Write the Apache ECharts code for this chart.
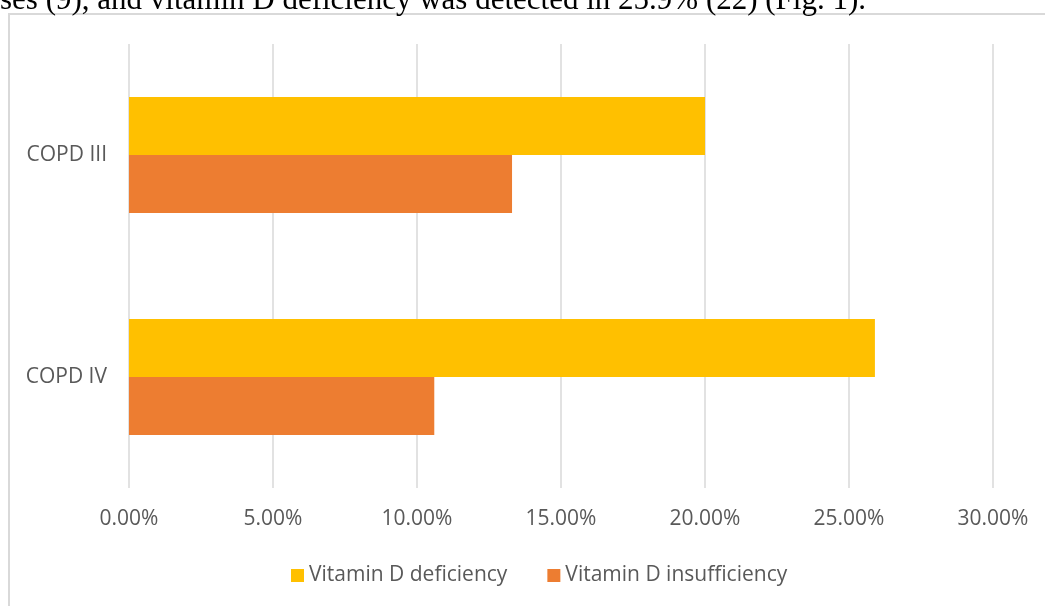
<!DOCTYPE html>
<html>
<head>
<meta charset="utf-8">
<script src="https://cdn.jsdelivr.net/npm/echarts@6/dist/echarts.min.js"></script>
<style>
html,body{margin:0;padding:0;background:#fff;}
#chart{width:1045px;height:606px;}
</style>
</head>
<body>
<div id="chart"></div>
<script>
const categories = ['COPD III', 'COPD IV'];
const deficiency = [20.0, 25.9];
const insufficiency = [13.3, 10.6];
const seriesNames = ['Vitamin D deficiency', 'Vitamin D insufficiency'];
const captionText = 'ses (9), and vitamin D deficiency was detected in 25.9% (22) (Fig. 1).';

const chart = echarts.init(document.getElementById('chart'), null, {renderer: 'canvas'});
const labelColor = '#595959';
const font = 'Open Sans';
chart.setOption({
  animation: false,
  backgroundColor: '#ffffff',
  graphic: [
    {type: 'rect', silent: true, z: -1,
     shape: {x: 9, y: 14, width: 1100, height: 700},
     style: {fill: 'none', stroke: '#d9d9d9', lineWidth: 2}},
    {type: 'text', left: 0, top: -15, silent: true,
     style: {text: captionText, font: '31px "Liberation Serif", "Times New Roman", serif', fill: '#000000'}}
  ],
  grid: {left: 129, right: 52, top: 44, bottom: 118, containLabel: false},
  legend: {
    left: 286, top: 560,
    itemWidth: 13, itemHeight: 13, itemGap: 40,
    icon: 'rect',
    textStyle: {color: labelColor, fontSize: 21, fontFamily: font},
    data: seriesNames
  },
  xAxis: {
    type: 'value', min: 0, max: 30, interval: 5,
    axisLine: {show: false}, axisTick: {show: false},
    splitLine: {show: true, lineStyle: {color: '#d9d9d9', width: 1.5}},
    axisLabel: {color: labelColor, fontSize: 21, fontFamily: font, margin: 21,
      formatter: v => v.toFixed(2) + '%'}
  },
  yAxis: {
    type: 'category', data: categories, inverse: true,
    axisLine: {show: false}, axisTick: {show: false},
    axisLabel: {color: labelColor, fontSize: 21, fontFamily: font, margin: 22}
  },
  series: [
    {name: seriesNames[0], type: 'bar', data: deficiency, barWidth: 58, barGap: '0%',
     itemStyle: {color: '#FFC000'}},
    {name: seriesNames[1], type: 'bar', data: insufficiency, barWidth: 58, barGap: '0%',
     itemStyle: {color: '#ED7D31'}}
  ]
});
</script>
</body>
</html>
